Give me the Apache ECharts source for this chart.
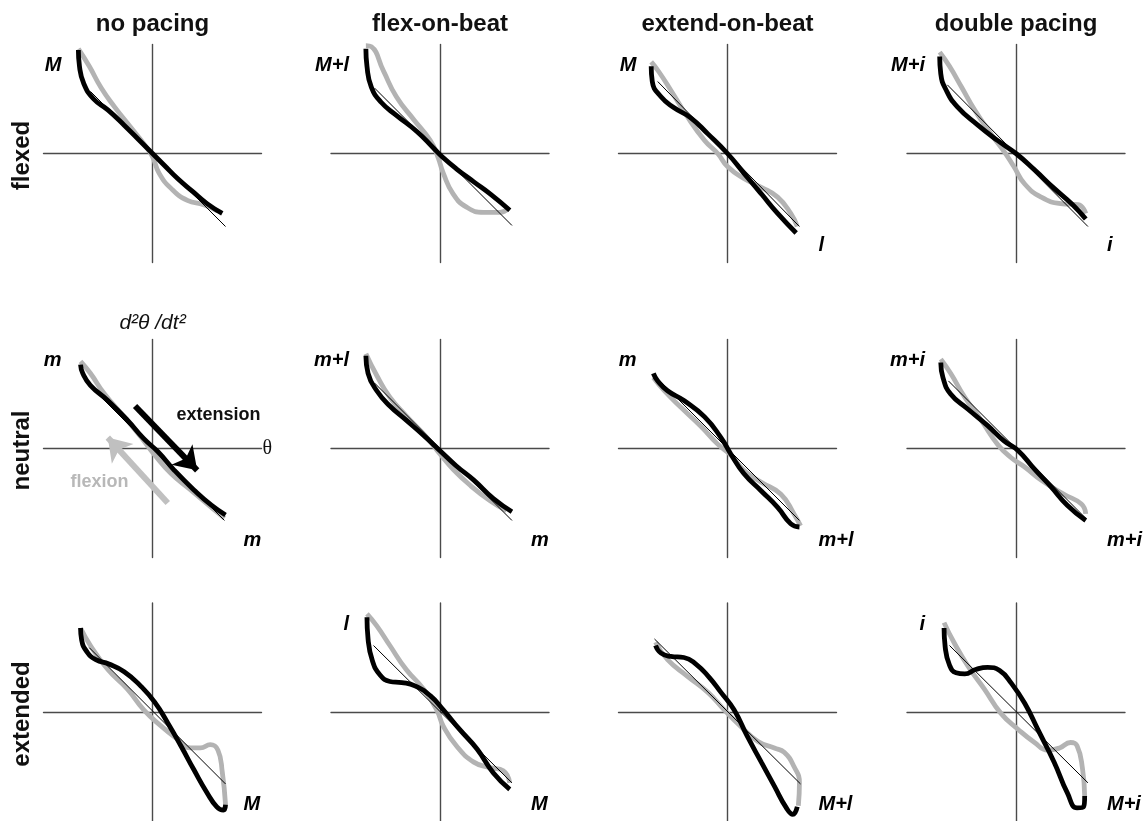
<!DOCTYPE html>
<html><head><meta charset="utf-8">
<script src="https://cdn.jsdelivr.net/npm/echarts@6/dist/echarts.min.js"></script>
<style>html,body{margin:0;padding:0;background:#fff}#c{width:1147px;height:821px}</style>
</head><body><div id="c"></div>
<script>
// ---------- text ----------
const columnTitles = ['no pacing', 'flex-on-beat', 'extend-on-beat', 'double pacing'];
const rowTitles = ['flexed', 'neutral', 'extended'];
const topLeftLabels = [['M', 'M+l', 'M', 'M+i'], ['m', 'm+l', 'm', 'm+i'], ['', 'l', '', 'i']];
const bottomRightLabels = [['', '', 'l', 'i'], ['m', 'm', 'm+l', 'm+i'], ['M', 'M', 'M+l', 'M+i']];
const yAxisName = 'd²θ /dt²';
const xAxisName = 'θ';
const arrowLabels = ['extension', 'flexion'];

// ---------- data: [theta, d2theta/dt2] ----------
const flexedNoPacingBlack = [[-0.68,0.95],[-0.67,0.80],[-0.63,0.64],[-0.54,0.50],[-0.41,0.40],[-0.26,0.26],[-0.11,0.11],[0,0],[0.11,-0.11],[0.23,-0.23],[0.37,-0.35],[0.50,-0.46],[0.64,-0.55]];
const flexedNoPacingGray = [[-0.68,0.96],[-0.58,0.80],[-0.47,0.60],[-0.35,0.43],[-0.20,0.24],[-0.08,0.09],[0,-0.03],[0.06,-0.18],[0.17,-0.32],[0.32,-0.43],[0.47,-0.47],[0.60,-0.53]];
const flexedNoPacingFit = [[-0.57,0.57],[0.67,-0.67]];

const flexedFlexBlack = [[-0.68,0.96],[-0.67,0.80],[-0.63,0.61],[-0.54,0.47],[-0.40,0.35],[-0.21,0.20],[-0.06,0.05],[0.02,-0.03],[0.15,-0.14],[0.31,-0.26],[0.46,-0.37],[0.64,-0.52]];
const flexedFlexGray = [[-0.68,0.99],[-0.63,0.98],[-0.52,0.76],[-0.40,0.52],[-0.24,0.31],[-0.09,0.12],[-0.02,-0.03],[0.03,-0.18],[0.12,-0.37],[0.24,-0.49],[0.40,-0.54],[0.55,-0.54],[0.63,-0.50]];
const flexedFlexFit = [[-0.60,0.60],[0.66,-0.66]];

const flexedExtendBlack = [[-0.70,0.80],[-0.69,0.66],[-0.61,0.52],[-0.49,0.42],[-0.34,0.33],[-0.18,0.18],[0,0],[0.15,-0.18],[0.31,-0.37],[0.46,-0.55],[0.63,-0.73]];
const flexedExtendGray = [[-0.70,0.84],[-0.63,0.75],[-0.52,0.58],[-0.37,0.34],[-0.21,0.12],[-0.09,0],[0,-0.12],[0.15,-0.23],[0.31,-0.31],[0.46,-0.40],[0.58,-0.55],[0.64,-0.67]];
const flexedExtendFit = [[-0.64,0.66],[0.66,-0.67]];

const flexedDoubleBlack = [[-0.70,0.89],[-0.69,0.73],[-0.64,0.58],[-0.54,0.43],[-0.35,0.26],[-0.17,0.12],[0,0],[0.17,-0.15],[0.35,-0.32],[0.52,-0.47],[0.64,-0.60]];
const flexedDoubleGray = [[-0.70,0.93],[-0.61,0.80],[-0.50,0.61],[-0.38,0.40],[-0.23,0.18],[-0.11,0.02],[-0.02,-0.12],[0.08,-0.28],[0.23,-0.40],[0.41,-0.46],[0.57,-0.47],[0.64,-0.55]];
const flexedDoubleFit = [[-0.63,0.63],[0.66,-0.67]];

const neutralNoPacingBlack = [[-0.66,0.77],[-0.64,0.69],[-0.57,0.58],[-0.41,0.44],[-0.23,0.26],[-0.08,0.09],[0.05,-0.03],[0.20,-0.20],[0.38,-0.38],[0.54,-0.52],[0.67,-0.61]];
const neutralNoPacingGray = [[-0.66,0.80],[-0.57,0.69],[-0.44,0.50],[-0.26,0.29],[-0.11,0.11],[0.02,-0.06],[0.17,-0.23],[0.35,-0.38],[0.54,-0.54],[0.66,-0.64]];
const neutralNoPacingFit = [[-0.60,0.60],[0.66,-0.66]];

const neutralFlexBlack = [[-0.68,0.85],[-0.66,0.69],[-0.58,0.53],[-0.46,0.39],[-0.31,0.26],[-0.15,0.12],[0,-0.02],[0.15,-0.16],[0.31,-0.29],[0.49,-0.46],[0.66,-0.58]];
const neutralFlexGray = [[-0.68,0.87],[-0.58,0.67],[-0.46,0.47],[-0.31,0.30],[-0.12,0.10],[0,-0.05],[0.12,-0.19],[0.28,-0.34],[0.46,-0.48],[0.61,-0.57]];
const neutralFlexFit = [[-0.60,0.60],[0.66,-0.66]];

const neutralExtendBlack = [[-0.68,0.69],[-0.64,0.62],[-0.55,0.53],[-0.40,0.44],[-0.21,0.29],[-0.06,0.10],[0.03,-0.05],[0.15,-0.23],[0.31,-0.39],[0.46,-0.54],[0.58,-0.69],[0.66,-0.72]];
const neutralExtendGray = [[-0.68,0.65],[-0.58,0.53],[-0.43,0.38],[-0.24,0.20],[-0.09,0.04],[0.03,-0.06],[0.15,-0.20],[0.31,-0.31],[0.49,-0.42],[0.61,-0.60],[0.67,-0.71]];
const neutralExtendFit = [[-0.62,0.62],[0.66,-0.66]];

const neutralDoubleBlack = [[-0.69,0.79],[-0.67,0.65],[-0.60,0.50],[-0.44,0.36],[-0.26,0.21],[-0.11,0.07],[0.02,-0.02],[0.17,-0.19],[0.32,-0.35],[0.47,-0.52],[0.64,-0.66]];
const neutralDoubleGray = [[-0.69,0.82],[-0.60,0.69],[-0.47,0.47],[-0.32,0.26],[-0.17,0.04],[-0.05,-0.08],[0.08,-0.17],[0.23,-0.29],[0.44,-0.42],[0.60,-0.51],[0.64,-0.60]];
const neutralDoubleFit = [[-0.62,0.62],[0.64,-0.64]];

const extendedNoPacingBlack = [[-0.66,0.77],[-0.65,0.66],[-0.60,0.55],[-0.52,0.48],[-0.40,0.44],[-0.26,0.37],[-0.11,0.24],[0.02,0.09],[0.14,-0.10],[0.26,-0.31],[0.38,-0.53],[0.50,-0.74],[0.59,-0.87],[0.65,-0.90],[0.67,-0.85]];
const extendedNoPacingGray = [[-0.66,0.77],[-0.57,0.61],[-0.41,0.39],[-0.23,0.21],[-0.08,0.02],[0.08,-0.13],[0.23,-0.25],[0.35,-0.33],[0.44,-0.33],[0.53,-0.30],[0.60,-0.35],[0.64,-0.55],[0.67,-0.85]];
const extendedNoPacingFit = [[-0.58,0.59],[0.67,-0.66]];

const extendedFlexBlack = [[-0.67,0.87],[-0.66,0.67],[-0.62,0.47],[-0.55,0.34],[-0.46,0.28],[-0.35,0.27],[-0.23,0.24],[-0.09,0.15],[0.03,0.02],[0.18,-0.16],[0.34,-0.34],[0.49,-0.56],[0.64,-0.71]];
const extendedFlexGray = [[-0.67,0.90],[-0.58,0.79],[-0.46,0.61],[-0.31,0.39],[-0.15,0.21],[-0.03,0.02],[0.03,-0.13],[0.15,-0.31],[0.31,-0.46],[0.46,-0.51],[0.58,-0.54],[0.64,-0.65]];
const extendedFlexFit = [[-0.61,0.61],[0.66,-0.65]];

const extendedExtendBlack = [[-0.66,0.61],[-0.61,0.54],[-0.52,0.51],[-0.40,0.50],[-0.29,0.44],[-0.17,0.32],[-0.06,0.18],[0.06,0.02],[0.18,-0.22],[0.31,-0.46],[0.43,-0.68],[0.54,-0.88],[0.60,-0.94],[0.64,-0.87]];
const extendedExtendGray = [[-0.66,0.64],[-0.55,0.48],[-0.37,0.33],[-0.18,0.18],[-0.03,0.02],[0.12,-0.13],[0.28,-0.27],[0.43,-0.33],[0.52,-0.37],[0.61,-0.50],[0.66,-0.65],[0.65,-0.86]];
const extendedExtendFit = [[-0.67,0.67],[0.67,-0.66]];

const extendedDoubleBlack = [[-0.66,0.77],[-0.65,0.60],[-0.61,0.43],[-0.55,0.36],[-0.47,0.35],[-0.37,0.39],[-0.26,0.41],[-0.15,0.38],[-0.04,0.26],[0.08,0.08],[0.20,-0.16],[0.35,-0.46],[0.47,-0.74],[0.56,-0.88],[0.62,-0.87],[0.63,-0.77]];
const extendedDoubleGray = [[-0.66,0.82],[-0.57,0.64],[-0.44,0.42],[-0.29,0.21],[-0.14,-0.01],[0.02,-0.16],[0.17,-0.28],[0.29,-0.35],[0.40,-0.33],[0.50,-0.28],[0.56,-0.31],[0.61,-0.52],[0.63,-0.77]];
const extendedDoubleFit = [[-0.61,0.61],[0.66,-0.65]];

// annotation arrows in the neutral / no pacing panel: [start, end]
const extensionArrow = [[-0.16,0.39],[0.41,-0.20]];
const flexionArrow = [[0.14,-0.50],[-0.41,0.10]];

const panels = [
  [flexedNoPacingBlack, flexedNoPacingGray, flexedNoPacingFit],
  [flexedFlexBlack, flexedFlexGray, flexedFlexFit],
  [flexedExtendBlack, flexedExtendGray, flexedExtendFit],
  [flexedDoubleBlack, flexedDoubleGray, flexedDoubleFit],
  [neutralNoPacingBlack, neutralNoPacingGray, neutralNoPacingFit],
  [neutralFlexBlack, neutralFlexGray, neutralFlexFit],
  [neutralExtendBlack, neutralExtendGray, neutralExtendFit],
  [neutralDoubleBlack, neutralDoubleGray, neutralDoubleFit],
  [extendedNoPacingBlack, extendedNoPacingGray, extendedNoPacingFit],
  [extendedFlexBlack, extendedFlexGray, extendedFlexFit],
  [extendedExtendBlack, extendedExtendGray, extendedExtendFit],
  [extendedDoubleBlack, extendedDoubleGray, extendedDoubleFit]
];

// ---------- layout ----------
const colCenters = [152.5, 440, 727.5, 1016];
const rowCenters = [153.5, 448.5, 712];
const half = 109;
const FONT = '"Liberation Sans", Arial, Helvetica, sans-serif';
const GRAY = '#b3b3b3';
const AXIS = '#4a4a4a';

const grids = [], xAxes = [], yAxes = [], series = [], graphics = [];
for (let r = 0; r < 3; r++) {
  for (let c = 0; c < 4; c++) {
    const i = r * 4 + c;
    grids.push({ left: colCenters[c] - half, top: rowCenters[r] - half, width: 2 * half, height: 2 * half });
    const ax = {
      gridIndex: i, type: 'value', min: -1, max: 1,
      axisLine: { show: true, onZero: true, lineStyle: { color: AXIS, width: 1.4 } },
      axisTick: { show: false }, axisLabel: { show: false }, splitLine: { show: false }
    };
    xAxes.push(Object.assign({}, ax));
    yAxes.push(Object.assign({}, ax));
    const [blk, gry, fit] = panels[i];
    series.push({ type: 'line', xAxisIndex: i, yAxisIndex: i, data: gry, smooth: 0.5, showSymbol: false, silent: true, z: 2,
      lineStyle: { color: GRAY, width: 4.8 } });
    series.push({ type: 'line', xAxisIndex: i, yAxisIndex: i, data: blk, smooth: 0.5, showSymbol: false, silent: true, z: 3,
      lineStyle: { color: '#000', width: 4.8 } });
    const fitSeries = { type: 'line', xAxisIndex: i, yAxisIndex: i, data: fit, showSymbol: false, silent: true, z: 4,
      lineStyle: { color: '#000', width: 1 } };
    if (i === 4) {
      fitSeries.markLine = {
        silent: true, symbol: ['none', 'arrow'], symbolSize: 22,
        label: { show: false }, animation: false,
        data: [
          [{ coord: extensionArrow[0], lineStyle: { color: '#000', width: 6, type: 'solid' } }, { coord: extensionArrow[1] }],
          [{ coord: flexionArrow[0], lineStyle: { color: '#c0c0c0', width: 6, type: 'solid' } }, { coord: flexionArrow[1] }]
        ]
      };
    }
    series.push(fitSeries);

    const left = colCenters[c] - half, right = colCenters[c] + half;
    const top = rowCenters[r] - half, bottom = rowCenters[r] + half;
    if (topLeftLabels[r][c]) {
      graphics.push({ type: 'text', x: left + 18, y: top + 21,
        style: { text: topLeftLabels[r][c], font: 'italic bold 20px ' + FONT, fill: '#000', textAlign: 'right', textVerticalAlign: 'middle' } });
    }
    if (bottomRightLabels[r][c]) {
      graphics.push({ type: 'text', x: right - 18, y: bottom - 17,
        style: { text: bottomRightLabels[r][c], font: 'italic bold 20px ' + FONT, fill: '#000', textAlign: 'left', textVerticalAlign: 'middle' } });
    }
  }
}

columnTitles.forEach((t, c) => graphics.push({ type: 'text', x: colCenters[c], y: 24,
  style: { text: t, font: 'bold 24px ' + FONT, fill: '#111', textAlign: 'center', textVerticalAlign: 'middle' } }));
rowTitles.forEach((t, r) => graphics.push({ type: 'text', x: 22, y: rowCenters[r] + 2, rotation: Math.PI / 2,
  style: { text: t, font: 'bold 24px ' + FONT, fill: '#111', textAlign: 'center', textVerticalAlign: 'middle' } }));

graphics.push({ type: 'text', x: colCenters[0], y: rowCenters[1] - half - 16,
  style: { text: yAxisName, font: 'italic 21px ' + FONT, fill: '#111', textAlign: 'center', textVerticalAlign: 'middle' } });
graphics.push({ type: 'text', x: colCenters[0] + half + 1, y: rowCenters[1],
  style: { text: xAxisName, font: '20px "Liberation Serif", serif', fill: '#111', textAlign: 'left', textVerticalAlign: 'middle' } });
graphics.push({ type: 'text', x: colCenters[0] + 66, y: rowCenters[1] - 33,
  style: { text: arrowLabels[0], font: 'bold 18px ' + FONT, fill: '#111', textAlign: 'center', textVerticalAlign: 'middle' } });
graphics.push({ type: 'text', x: colCenters[0] - 53, y: rowCenters[1] + 34,
  style: { text: arrowLabels[1], font: 'bold 18px ' + FONT, fill: '#b8b8b8', textAlign: 'center', textVerticalAlign: 'middle' } });

const chart = echarts.init(document.getElementById('c'), null, { renderer: 'canvas' });
chart.setOption({
  animation: false,
  backgroundColor: '#fff',
  grid: grids, xAxis: xAxes, yAxis: yAxes, series: series,
  graphic: { elements: graphics }
});
</script>
</body></html>
